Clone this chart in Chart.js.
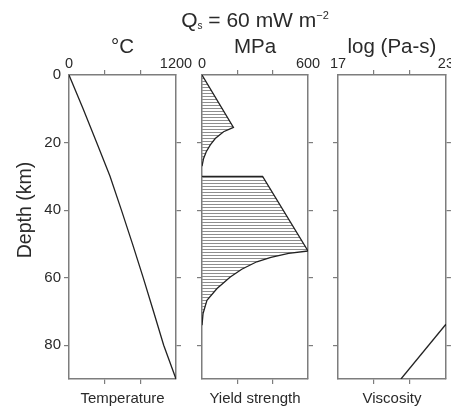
<!DOCTYPE html>
<html>
<head>
<meta charset="utf-8">
<script src="https://cdn.jsdelivr.net/npm/chart.js@4.4.0/dist/chart.umd.min.js"></script>
<style>
  body { margin: 0; background: #fff; }
  #wrap { position: relative; width: 451px; height: 410px; overflow: hidden;
          font-family: "Liberation Sans", Arial, sans-serif; color: #2a2a2a; }
  #wrap canvas { position: absolute; left: 0; top: 0; }
  #titulo { position: absolute; left: 135px; width: 240px; top: 3px; text-align: center;
            font-size: 21px; line-height: 24px; }
  #titulo sub { font-size: 10px; vertical-align: -2px; }
  #titulo sup { font-size: 11px; vertical-align: 8px; }
  #prof { position: absolute; left: -36px; top: 199px; width: 120px; height: 22px;
          line-height: 22px; text-align: center; font-size: 19.5px; transform: rotate(-90deg); }
</style>
</head>
<body>
<div id="wrap">
  <canvas id="c1" width="451" height="410"></canvas>
  <canvas id="c2" width="451" height="410"></canvas>
  <canvas id="c3" width="451" height="410"></canvas>
  <div id="titulo">Q<sub>s</sub> = 60 mW m<sup>−2</sup></div>
  <div id="prof">Depth (km)</div>
</div>
<script>
// profundidade (km) e valores
const profTemp = [0, 10, 20, 30, 40, 50, 60, 70, 80, 90];
const temperatura = [0, 158, 310, 460, 588, 712, 832, 948, 1062, 1200];

const profCrostaSup = [0, 15.5, 16.8, 18.8, 20.7, 22.7, 24.7, 27];
const resistCrostaSup = [0, 178, 122, 75, 47, 24, 9, 0];
const profCrostaInf = [30, 30, 52.1, 52.8, 54, 55.3, 57.5, 59.8, 63.2, 66.7, 70.6, 74.1];
const resistCrostaInf = [0, 343, 600, 490, 390, 310, 225, 160, 85, 28, 6, 0];

const profVisc = [73.8, 90];
const viscosidade = [23, 20.5];

const marcasProf = [0, 20, 40, 60, 80];
const marcasTemp = [0, 400, 800, 1200];
const marcasMPa = [0, 200, 400, 600];
const marcasVisc = [17, 19, 21, 23];

Chart.defaults.font.family = '"Liberation Sans", Arial, sans-serif';
Chart.defaults.color = '#2a2a2a';

const cinza = '#7d7d7d';
const transparente = 'rgba(0,0,0,0)';
const preto = '#222';

function pontos(xs, ys) {
  return xs.map((v, i) => ({ x: v, y: ys[i] }));
}

function hachura(id) {
  let c = document.createElement('canvas');
  c.width = 4;
  c.height = 3;
  let g = c.getContext('2d');
  g.fillStyle = '#8e8e8e';
  g.fillRect(0, 0, 4, 1);
  return document.getElementById(id).getContext('2d').createPattern(c, 'repeat');
}

function criarPainel(id, p) {
  let larguraEsq = p.rotulosY ? p.esquerda : 6;
  let larguraDir = Math.min(6, 451 - p.direita);
  let semPontas = ctx => (ctx.tick && (ctx.tick.value === p.min || ctx.tick.value === p.max)) ? transparente : cinza;
  let semZero = ctx => (ctx.tick && ctx.tick.value === 0) ? transparente : cinza;
  let borda = { display: true, color: cinza, width: 1.5 };
  let marcasX = e => { e.ticks = p.marcas.map(v => ({ value: v })); };
  let marcasY = e => { e.ticks = marcasProf.map(v => ({ value: v })); };

  return new Chart(document.getElementById(id), {
    type: 'line',
    data: { datasets: p.datasets },
    options: {
      responsive: false,
      animation: false,
      indexAxis: 'y',
      layout: { padding: { left: p.esquerda - larguraEsq, right: 451 - p.direita - larguraDir, top: 30, bottom: 0 } },
      plugins: { legend: { display: false }, tooltip: { enabled: false } },
      elements: { point: { radius: 0 }, line: { tension: 0 } },
      scales: {
        x: {
          type: 'linear', position: 'top', min: p.min, max: p.max,
          afterBuildTicks: marcasX,
          afterFit: e => { e.height = 45; },
          ticks: {
            font: { size: 14.5 }, padding: -3, maxRotation: 0, autoSkip: false,
            callback: v => (v === p.min || v === p.max) ? String(v) : ''
          },
          grid: { drawOnChartArea: false, tickLength: 5, color: semPontas, lineWidth: 1.2 },
          border: borda,
          title: { display: true, text: p.unidade, font: { size: 20.5 }, padding: { top: 5, bottom: 0 } }
        },
        xb: {
          type: 'linear', position: 'bottom', min: p.min, max: p.max,
          afterBuildTicks: marcasX,
          afterFit: e => { e.height = 31; },
          ticks: { display: false },
          grid: { drawOnChartArea: false, tickLength: 5, color: semPontas, lineWidth: 1.2 },
          border: borda,
          title: { display: true, text: p.nome, font: { size: 15 }, padding: { top: 0, bottom: 2 } }
        },
        y: {
          type: 'linear', position: 'left', reverse: true, min: 0, max: 90,
          afterBuildTicks: marcasY,
          afterFit: e => { e.width = larguraEsq; },
          ticks: { display: !!p.rotulosY, font: { size: 15 }, padding: 3 },
          grid: { drawOnChartArea: false, tickLength: 5, color: semZero, lineWidth: 1.2 },
          border: borda
        },
        yr: {
          type: 'linear', position: 'right', reverse: true, min: 0, max: 90,
          afterBuildTicks: marcasY,
          afterFit: e => { e.width = larguraDir; },
          ticks: { display: false },
          grid: { drawOnChartArea: false, tickLength: 5, color: semZero, lineWidth: 1.2 },
          border: borda
        }
      }
    }
  });
}

criarPainel('c1', {
  esquerda: 69, direita: 176, min: 0, max: 1200, marcas: marcasTemp,
  unidade: '°C', nome: 'Temperature', rotulosY: true,
  datasets: [{
    data: pontos(temperatura, profTemp),
    borderColor: preto, borderWidth: 1.3, fill: false
  }]
});

let padrao = hachura('c2');
criarPainel('c2', {
  esquerda: 202, direita: 308, min: 0, max: 600, marcas: marcasMPa,
  unidade: 'MPa', nome: 'Yield strength',
  datasets: [{
    data: pontos(resistCrostaSup, profCrostaSup),
    borderColor: preto, borderWidth: 1.3, fill: 'origin', backgroundColor: padrao
  }, {
    data: pontos(resistCrostaInf, profCrostaInf),
    borderColor: preto, borderWidth: 1.3, fill: 'origin', backgroundColor: padrao
  }]
});

criarPainel('c3', {
  esquerda: 338, direita: 446, min: 17, max: 23, marcas: marcasVisc,
  unidade: 'log (Pa-s)', nome: 'Viscosity',
  datasets: [{
    data: pontos(viscosidade, profVisc),
    borderColor: preto, borderWidth: 1.3, fill: false
  }]
});
</script>
</body>
</html>
